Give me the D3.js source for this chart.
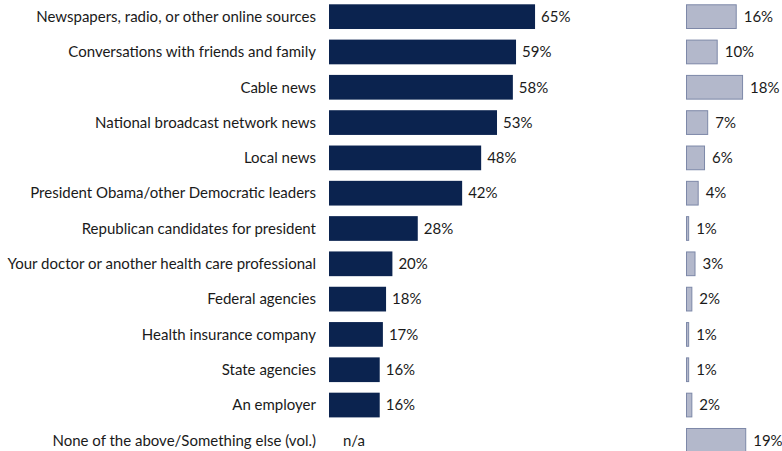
<!DOCTYPE html>
<html><head><meta charset="utf-8">
<script src="https://cdn.jsdelivr.net/npm/d3@7"></script>
<style>
body{margin:0;background:#fff;}
text{font-family:Lato, "Open Sans", sans-serif;fill:#1a1a1a;}
</style></head>
<body><svg id="c" width="782" height="451"></svg>
<script>
const categories = [
  "Newspapers, radio, or other online sources",
  "Conversations with friends and family",
  "Cable news",
  "National broadcast network news",
  "Local news",
  "President Obama/other Democratic leaders",
  "Republican candidates for president",
  "Your doctor or another health care professional",
  "Federal agencies",
  "Health insurance company",
  "State agencies",
  "An employer",
  "None of the above/Something else (vol.)"
];
const mainValues = [65, 59, 58, 53, 48, 42, 28, 20, 18, 17, 16, 16, null];
const secondValues = [16, 10, 18, 7, 6, 4, 1, 3, 2, 1, 1, 2, 19];

const svg = d3.select("#c");
const fs = 15;
const y = d3.scaleBand().domain(categories).range([-1, 458]).paddingInner(0.3).paddingOuter(0.15);
const xL = d3.scaleLinear().domain([0, 100]).range([329, 646]);
const xR = d3.scaleLinear().domain([0, 100]).range([686, 1003]);

const g = svg.append("g");
g.selectAll("text.cat").data(categories).join("text")
  .attr("class","cat")
  .attr("x", 316).attr("y", d => y(d) + y.bandwidth()/2)
  .attr("dy","0.35em").attr("text-anchor","end")
  .style("font-size", fs+"px").text(d => d);

const rows = categories.map((c,i)=>({c, m: mainValues[i], s: secondValues[i]}));
g.selectAll("rect.main").data(rows.filter(d=>d.m!=null)).join("rect")
  .attr("x", xL(0)).attr("y", d=>y(d.c)).attr("width", d=>xL(d.m)-xL(0))
  .attr("height", y.bandwidth()).attr("fill","#0b234f");
g.selectAll("text.mv").data(rows).join("text")
  .attr("x", d => d.m!=null ? xL(d.m)+6 : xL(0)+14)
  .attr("y", d => y(d.c)+y.bandwidth()/2).attr("dy","0.35em")
  .style("font-size", fs+"px").text(d => d.m!=null ? d.m+"%" : "n/a");

g.selectAll("rect.sec").data(rows).join("rect")
  .attr("x", xR(0)+0.5).attr("y", d=>y(d.c)+0.5).attr("width", d=>xR(d.s)-xR(0)-1)
  .attr("height", y.bandwidth()-1).attr("fill","#b3b8cb").attr("stroke","#7d88a8").attr("stroke-width",1);
g.selectAll("text.sv").data(rows).join("text")
  .attr("x", d => xR(d.s)+7)
  .attr("y", d => y(d.c)+y.bandwidth()/2).attr("dy","0.35em")
  .style("font-size", fs+"px").text(d => d.s+"%");
</script></body></html>
